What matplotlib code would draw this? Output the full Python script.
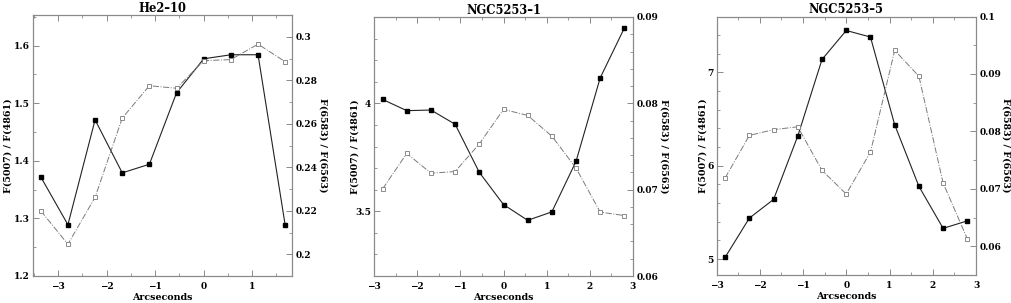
import matplotlib
matplotlib.use("Agg")

import matplotlib.pyplot as plt
from matplotlib.ticker import MultipleLocator

plt.rcParams["font.family"] = ["DejaVu Serif"]
plt.rcParams["font.weight"] = "bold"

# ── data ────────────────────────────────────────────────────────────
titles = ["He2\u201310", "NGC5253\u20131", "NGC5253\u20135"]

x_he2 = [-3.36, -2.8, -2.24, -1.68, -1.12, -0.56, 0.0, 0.56, 1.12, 1.68]
o3_he2 = [1.372, 1.289, 1.471, 1.379, 1.394, 1.518, 1.577, 1.584, 1.584, 1.288]
n2_he2 = [0.220, 0.2046, 0.2262, 0.2626, 0.2775, 0.2763, 0.289, 0.2895, 0.2966, 0.2885]

x_ngc1 = [-2.8, -2.24, -1.68, -1.12, -0.56, 0.0, 0.56, 1.12, 1.68, 2.24, 2.8]
o3_ngc1 = [4.018, 3.966, 3.969, 3.903, 3.680, 3.531, 3.458, 3.497, 3.731, 4.118, 4.349]
n2_ngc1 = [0.0701, 0.0742, 0.0719, 0.0721, 0.0753, 0.0793, 0.0786, 0.0762, 0.0725, 0.0674, 0.0670]

x_ngc5 = [-2.8, -2.24, -1.68, -1.12, -0.56, 0.0, 0.56, 1.12, 1.68, 2.24, 2.8]
o3_ngc5 = [5.02, 5.44, 5.64, 6.32, 7.14, 7.45, 7.38, 6.44, 5.78, 5.33, 5.41]
n2_ngc5 = [0.0719, 0.0793, 0.0803, 0.0808, 0.0732, 0.0691, 0.0764, 0.0941, 0.0896, 0.0710, 0.0613]

W, H = 1011, 303

# ── per-panel layout / scales (rect in pixels: left, top, right, bottom) ──
panels = [
    dict(x=x_he2, o3=o3_he2, n2=n2_he2, xlim=(-3.52, 1.82),
         ylim=(1.2, 1.653), ymaj=0.1, ymin=0.05,
         y2lim=(0.19, 0.31), y2maj=0.02, y2min=0.01,
         px=(33, 15, 292, 276), ylab_x=(8, 323)),
    dict(x=x_ngc1, o3=o3_ngc1, n2=n2_ngc1, xlim=(-3, 3),
         ylim=(3.2, 4.4), ymaj=0.5, ymin=0.1,
         y2lim=(0.06, 0.09), y2maj=0.01, y2min=0.002,
         px=(374, 17, 633, 276), ylab_x=(355, 664)),
    dict(x=x_ngc5, o3=o3_ngc5, n2=n2_ngc5, xlim=(-3, 3),
         ylim=(4.83, 7.6), ymaj=1.0, ymin=0.2,
         y2lim=(0.055, 0.1), y2maj=0.01, y2min=0.005,
         px=(716.5, 16.5, 976, 275), ylab_x=(703, 1006)),
]

SPINE = "#8a8a8a"
TICKFS = 6.5
LABFS = 6.8

fig = plt.figure(figsize=(W / 100, H / 100), dpi=100)
fig.patch.set_facecolor("white")

for title, p in zip(titles, panels):
    l, t, r, b = p["px"]
    ax = fig.add_axes([l / W, (H - b) / H, (r - l) / W, (b - t) / H])
    ax2 = ax.twinx()

    ax.plot(p["x"], p["o3"], color="#222222", lw=0.8, ls="-",
            marker="s", ms=2.8, mfc="black", mec="black", zorder=3)
    ax2.plot(p["x"], p["n2"], color="#7a7a7a", lw=0.7, ls="-.",
             marker="s", ms=3.0, mfc="white", mec="#7a7a7a", mew=0.6)

    ax.set_xlim(*p["xlim"])
    ax.set_ylim(*p["ylim"])
    ax2.set_ylim(*p["y2lim"])

    ax.xaxis.set_major_locator(MultipleLocator(1))
    ax.xaxis.set_minor_locator(MultipleLocator(0.5))
    ax.yaxis.set_major_locator(MultipleLocator(p["ymaj"]))
    ax.yaxis.set_minor_locator(MultipleLocator(p["ymin"]))
    ax2.yaxis.set_major_locator(MultipleLocator(p["y2maj"]))
    ax2.yaxis.set_minor_locator(MultipleLocator(p["y2min"]))

    ax.yaxis.set_major_formatter(plt.FuncFormatter(lambda v, _: f"{round(v, 3):g}"))
    ax2.yaxis.set_major_formatter(plt.FuncFormatter(lambda v, _: f"{round(v, 4):g}"))
    ax.xaxis.set_major_formatter(
        plt.FuncFormatter(lambda v, _: f"{round(v, 3):g}".replace("-", "\u2212")))

    for a in (ax, ax2):
        for s in a.spines.values():
            s.set_color(SPINE)
            s.set_linewidth(0.8)
    ax.tick_params(axis="x", which="both", direction="in", top=True,
                   color=SPINE, labelsize=TICKFS, pad=4.5)
    ax.tick_params(axis="y", which="both", direction="in", right=False,
                   color=SPINE, labelsize=TICKFS, pad=2)
    ax2.tick_params(axis="y", which="both", direction="in", color=SPINE,
                    labelsize=TICKFS, pad=2.5)
    for a in (ax, ax2):
        a.tick_params(which="major", length=4, width=0.7)
        a.tick_params(which="minor", length=2.5, width=0.6)

    ax.set_title(title, fontsize=8.3, fontweight="bold", pad=2)
    ax.set_xlabel("Arcseconds", fontsize=LABFS, fontweight="bold", labelpad=1.5)

    yc = (H - (t + b) / 2) / H
    fig.text(p["ylab_x"][0] / W, yc, "F(5007) / F(4861)", fontsize=LABFS,
             fontweight="bold", rotation=90, ha="center", va="center")
    fig.text(p["ylab_x"][1] / W, yc, "F(6583) / F(6563)", fontsize=LABFS,
             fontweight="bold", rotation=270, ha="center", va="center")

fig.savefig("out.png", dpi=100, facecolor="white")
